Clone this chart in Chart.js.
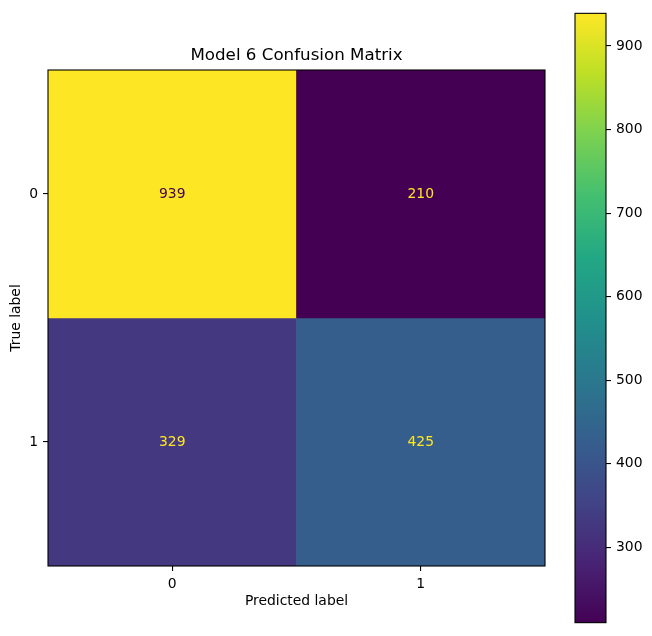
<!DOCTYPE html>
<html>
<head>
<meta charset="utf-8">
<script src="https://cdn.jsdelivr.net/npm/chart.js@4/dist/chart.umd.min.js"></script>
<style>
  body { margin: 0; background: #fff; }
  #wrap { position: relative; width: 652px; height: 636px; }
  #matrix { position: absolute; left: 0; top: 0; }
  #cbar { position: absolute; left: 560px; top: 0; }
</style>
</head>
<body>
<div id="wrap">
  <canvas id="matrix" width="560" height="636"></canvas>
  <canvas id="cbar" width="92" height="636"></canvas>
</div>
<script>
"use strict";
// confusion matrix values (rows = true label, cols = predicted label)
const classLabels = ['0', '1'];
const row0 = [939, 210];
const row1 = [329, 425];
const matrixRows = [row0, row1];
const colorbarTicks = [300, 400, 500, 600, 700, 800, 900];
const chartTitle = 'Model 6 Confusion Matrix';

const allValues = row0.concat(row1);
const vMin = Math.min(...allValues);
const vMax = Math.max(...allValues);

// viridis stops
const viridis = ['#440154', '#482475', '#414487', '#355f8d', '#2a788e', '#21918c',
                 '#22a884', '#44bf70', '#7ad151', '#bddf26', '#fde725'];

function hexToRgb(h) {
    return [parseInt(h.slice(1, 3), 16), parseInt(h.slice(3, 5), 16), parseInt(h.slice(5, 7), 16)];
}
function viridisColor(t) {
    t = Math.max(0, Math.min(1, t));
    const pos = t * (viridis.length - 1);
    const i = Math.min(Math.floor(pos), viridis.length - 2);
    const f = pos - i;
    const a = hexToRgb(viridis[i]), b = hexToRgb(viridis[i + 1]);
    const c = a.map((v, k) => Math.round(v + (b[k] - v) * f));
    return `rgb(${c[0]}, ${c[1]}, ${c[2]})`;
}
function norm(v) { return (v - vMin) / (vMax - vMin); }

const FONT = 'DejaVu Sans';
Chart.defaults.font.family = FONT;
Chart.defaults.color = '#000';

// frame around the plot area
const framePlugin = {
    id: 'frame',
    afterDraw(chart) {
        const a = chart.chartArea, ctx = chart.ctx;
        ctx.save();
        ctx.strokeStyle = '#000';
        ctx.lineWidth = 1.1;
        ctx.strokeRect(a.left, a.top, a.right - a.left, a.bottom - a.top);
        ctx.restore();
    }
};

// cell numbers + title
const cellTextPlugin = {
    id: 'cellText',
    afterDraw(chart) {
        const ctx = chart.ctx, xs = chart.scales.x, ys = chart.scales.y;
        ctx.save();
        ctx.font = '13.9px ' + FONT;
        ctx.textAlign = 'center';
        ctx.textBaseline = 'middle';
        matrixRows.forEach((row, i) => {
            row.forEach((v, j) => {
                ctx.fillStyle = norm(v) > 0.5 ? viridis[0] : viridis[viridis.length - 1];
                ctx.fillText(String(v), xs.getPixelForValue(j), ys.getPixelForValue(i));
            });
        });
        const a = chart.chartArea;
        ctx.fillStyle = '#000';
        ctx.font = '16.7px ' + FONT;
        ctx.fillText(chartTitle, (a.left + a.right) / 2, 56);
        ctx.restore();
    }
};

new Chart(document.getElementById('matrix'), {
    type: 'bar',
    data: {
        labels: classLabels,
        datasets: matrixRows.map((row, i) => ({
            label: 'True ' + classLabels[i],
            data: row.map(() => [i - 0.5, i + 0.5]),
            backgroundColor: row.map(v => viridisColor(norm(v))),
            borderWidth: 0,
            barPercentage: 1,
            categoryPercentage: 1,
            grouped: false
        }))
    },
    options: {
        responsive: false,
        animation: false,
        events: [],
        layout: { padding: { top: 70, right: 15, left: 0, bottom: 0 } },
        plugins: { legend: { display: false }, tooltip: { enabled: false }, title: { display: false } },
        scales: {
            x: {
                offset: true,
                grid: { offset: false, drawOnChartArea: false, drawTicks: true, tickLength: 5, color: '#000', lineWidth: 1.1 },
                border: { display: false },
                ticks: { padding: 5, font: { size: 13.9 }, maxRotation: 0 },
                title: { display: true, text: 'Predicted label', font: { size: 13.9 }, padding: { top: 0, bottom: 26 } },
                afterFit(scale) { scale.height = 70; }
            },
            y: {
                reverse: true,
                min: -0.5,
                max: 1.5,
                afterBuildTicks(scale) { scale.ticks = classLabels.map((l, i) => ({ value: i })); },
                grid: { drawOnChartArea: false, drawTicks: true, tickLength: 5, color: '#000', lineWidth: 1.1 },
                border: { display: false },
                ticks: { padding: 5, font: { size: 13.9 }, callback: v => classLabels[v] },
                title: { display: true, text: 'True label', font: { size: 13.9 }, padding: { top: 8, bottom: 0 } },
                afterFit(scale) { scale.width = 48; }
            }
        }
    },
    plugins: [framePlugin, cellTextPlugin]
});

// colorbar
new Chart(document.getElementById('cbar'), {
    type: 'bar',
    data: {
        labels: ['cb'],
        datasets: [{
            data: [[vMin, vMax]],
            backgroundColor(ctx) {
                const a = ctx.chart.chartArea;
                if (!a) return viridis[0];
                const g = ctx.chart.ctx.createLinearGradient(0, a.bottom, 0, a.top);
                viridis.forEach((c, k) => g.addColorStop(k / (viridis.length - 1), c));
                return g;
            },
            borderWidth: 0,
            barPercentage: 1,
            categoryPercentage: 1
        }]
    },
    options: {
        responsive: false,
        animation: false,
        events: [],
        layout: { padding: { top: 10, left: 15, right: 0, bottom: 10 } },
        plugins: { legend: { display: false }, tooltip: { enabled: false } },
        scales: {
            x: { display: false, offset: true },
            y: {
                position: 'right',
                min: vMin,
                max: vMax,
                afterBuildTicks(scale) { scale.ticks = colorbarTicks.map(v => ({ value: v })); },
                grid: { drawOnChartArea: false, drawTicks: true, tickLength: 5, color: '#000', lineWidth: 1.1 },
                border: { display: false },
                ticks: { padding: 5, font: { size: 13.9 } },
                afterFit(scale) { scale.width = 46; }
            }
        }
    },
    plugins: [framePlugin]
});
</script>
</body>
</html>
